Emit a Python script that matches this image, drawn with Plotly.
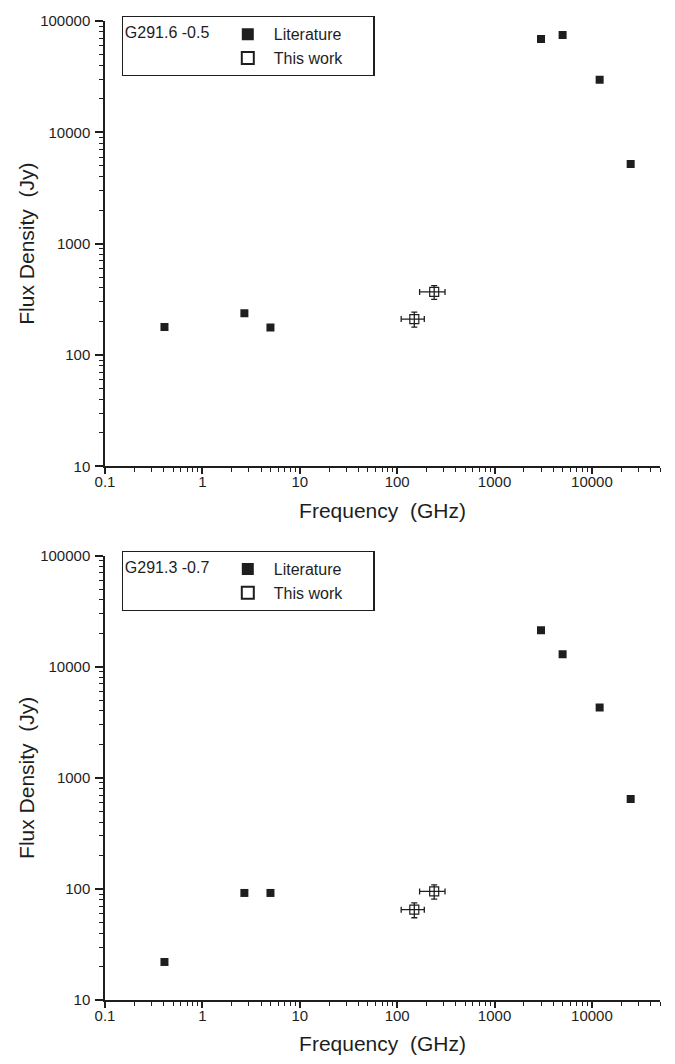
import numpy as np
import plotly.graph_objects as go

# ---------------- data ----------------
freq_lit = [0.408, 2.7, 5.0, 3000, 5000, 12000, 25000]          # GHz
flux_lit_top = [178, 237, 176, 69000, 75000, 29700, 5200]        # Jy, G291.6 -0.5
flux_lit_bot = [22, 92, 92, 21300, 13000, 4300, 645]             # Jy, G291.3 -0.7

freq_work = [150, 240]                                           # GHz
freq_err_minus = [40, 70]
freq_err_plus = [40, 70]
flux_work_top = [210, 368]
flux_work_top_err = [32, 52]
flux_work_bot = [65, 95]
flux_work_bot_err = [10, 14]

source_top = "G291.6 -0.5"
source_bot = "G291.3 -0.7"
series_names = ["Literature", "This work"]

x_major = [0.1, 1, 10, 100, 1000, 10000]
x_major_text = ["0.1", "1", "10", "100", "1000", "10000"]
y_major = [10, 100, 1000, 10000, 100000]
y_major_text = ["10", "100", "1000", "10000", "100000"]

# ---------------- figure ----------------
FONT = "Liberation Sans, Arial, sans-serif"
INK = "#1e1e1e"

x_minor = [m * 10.0 ** e for e in range(-1, 5) for m in range(2, 10) if m * 10.0 ** e <= 50000]
y_minor = [m * 10.0 ** e for e in range(1, 5) for m in range(2, 10)]

fig = go.Figure()

def add_panel(flux_lit, flux_work, flux_work_err, xa, ya, legend_name):
    fig.add_trace(go.Scatter(
        x=freq_lit, y=flux_lit, mode="markers", name=series_names[0] + "      ",
        xaxis=xa, yaxis=ya, legend=legend_name,
        marker=dict(symbol="square", size=8, color=INK, line=dict(width=0)),
    ))
    fig.add_trace(go.Scatter(
        x=freq_work, y=flux_work, mode="markers", name=series_names[1],
        xaxis=xa, yaxis=ya, legend=legend_name,
        marker=dict(symbol="square-open", size=9, color=INK, line=dict(width=1.2)),
        error_x=dict(type="data", array=freq_err_plus, arrayminus=freq_err_minus,
                     color=INK, thickness=1.3, width=3),
        error_y=dict(type="data", array=flux_work_err, color=INK, thickness=1.3, width=3),
    ))

add_panel(flux_lit_top, flux_work_top, flux_work_top_err, "x", "y", "legend")
add_panel(flux_lit_bot, flux_work_bot, flux_work_bot_err, "x2", "y2", "legend2")

xaxis_style = dict(
    type="log", range=[-1, np.log10(50000)],
    showline=True, linecolor=INK, linewidth=1.5, mirror=False,
    showgrid=False, zeroline=False,
    ticks="outside", ticklen=6, tickwidth=1.5, tickcolor=INK,
    tickmode="array", tickvals=x_major, ticktext=x_major_text,
    tickfont=dict(family=FONT, size=15, color=INK),
    ticklabelstandoff=-5,
    minor=dict(ticks="outside", ticklen=4, tickwidth=1.2, tickcolor=INK,
               tickmode="array", tickvals=x_minor, showgrid=False),
    title=dict(text="Frequency  (GHz)", font=dict(family=FONT, size=21, color=INK), standoff=14),
)
yaxis_style = dict(
    type="log", range=[1, 5],
    showline=True, linecolor=INK, linewidth=1.5, mirror=False,
    showgrid=False, zeroline=False,
    ticks="outside", ticklen=8, tickwidth=1.5, tickcolor=INK,
    tickmode="array", tickvals=y_major, ticktext=y_major_text,
    tickfont=dict(family=FONT, size=15, color=INK),
    ticklabelstandoff=2,
    minor=dict(ticks="outside", ticklen=4, tickwidth=1.2, tickcolor=INK,
               tickmode="array", tickvals=y_minor, showgrid=False),
    title=dict(text="Flux Density  (Jy)", font=dict(family=FONT, size=21, color=INK), standoff=0),
)

legend_style = dict(
    bgcolor="white", bordercolor=INK, borderwidth=1.2,
    font=dict(family=FONT, size=16, color=INK),
    xanchor="left", yanchor="top", tracegroupgap=0,
    itemsizing="constant", itemwidth=42,
)

fig.update_layout(
    width=675, height=1064,
    margin=dict(l=105, r=15, t=18, b=61),
    paper_bgcolor="white", plot_bgcolor="white",
    font=dict(family=FONT, color=INK),
    xaxis=dict(xaxis_style, domain=[0, 1], anchor="y"),
    yaxis=dict(yaxis_style, domain=[0.5452, 1.0], anchor="x"),
    xaxis2=dict(xaxis_style, domain=[0, 1], anchor="y2"),
    yaxis2=dict(yaxis_style, domain=[0.0, 0.4538], anchor="x2"),
    legend=dict(legend_style, x=0.03, y=1.005,
                title=dict(text=source_top + " ", side="left",
                           font=dict(family=FONT, size=16, color=INK))),
    legend2=dict(legend_style, x=0.03, y=0.4588,
                 title=dict(text=source_bot + " ", side="left",
                            font=dict(family=FONT, size=16, color=INK))),
)

fig.write_html("out.html")
